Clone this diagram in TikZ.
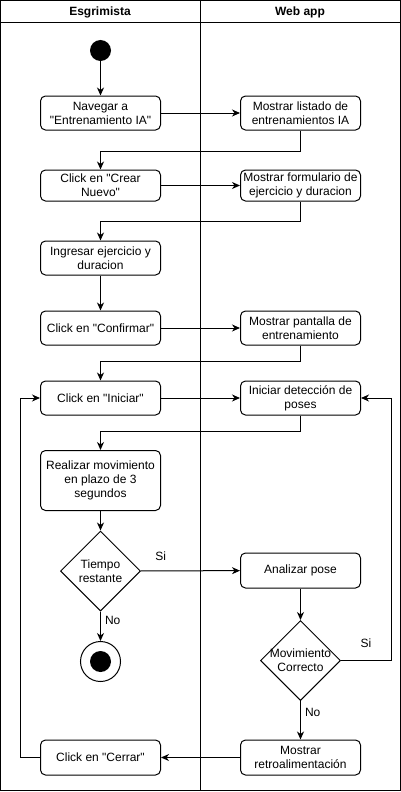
\documentclass[tikz,border=0pt]{standalone}
\usepackage{fontspec}
\setmainfont{Liberation Sans}
\usetikzlibrary{arrows.meta,shapes.geometric}
\newcommand{\qdbl}{\textquotedbl}
\begin{document}
\begin{tikzpicture}[x=1pt,y=-1pt,
  every node/.style={font=\fontsize{12}{14}\selectfont},
  act/.style={draw,rounded corners=5pt,minimum width=120,inner sep=0pt,align=center,line width=1pt},
  dec/.style={draw,diamond,minimum width=80,minimum height=80,inner sep=0pt,line width=1pt},
  arr/.style={-{Stealth[length=8pt,width=7pt,inset=2.5pt]},line width=1pt},
  lane/.style={line width=1pt},
  lbl/.style={inner sep=0pt}
]
\useasboundingbox (0,0) rectangle (401,792);
% swimlanes
\draw[lane] (0.5,0.5) rectangle (400.5,790.5);
\draw[lane] (0.5,23) -- (400.5,23);
\draw[lane] (200.5,0.5) -- (200.5,790.5);
\node[lbl,font=\fontsize{12}{14}\selectfont\bfseries] (h1) at (100,12) {Esgrimista};
\node[lbl,font=\fontsize{12}{14}\selectfont\bfseries] (h2) at (300,12) {Web app};

% nodes
\node[circle,fill=black,minimum size=21,inner sep=0pt] (start) at (100.5,50.5) {};
\node[act,minimum height=34] (nav) at (100.5,113) {Navegar a\\\qdbl Entrenamiento IA\qdbl};
\node[act,minimum height=34] (list) at (300.5,113) {Mostrar listado de\\entrenamientos IA};
\node[act,minimum height=31] (crear) at (100.5,185.5) {Click en \qdbl Crear\\Nuevo\qdbl};
\node[act,minimum height=31] (form) at (300.5,185.5) {Mostrar formulario de\\ejercicio y duracion};
\node[act,minimum height=34] (ingr) at (100.5,258) {Ingresar ejercicio y\\duracion};
\node[act,minimum height=34] (conf) at (100.5,328) {Click en \qdbl Confirmar\qdbl};
\node[act,minimum height=34] (pant) at (300.5,328) {Mostrar pantalla de\\entrenamiento};
\node[act,minimum height=34] (inic) at (100.5,398) {Click en \qdbl Iniciar\qdbl};
\node[act,minimum height=34] (det) at (300.5,398) {Iniciar detección de\\poses};
\node[act,minimum height=60] (real) at (100.5,480.5) {Realizar movimiento\\en plazo de 3\\segundos};
\node[dec,label={[align=center]center:Tiempo\\restante}] (tiempo) at (100.5,571) {};
\node[act,minimum height=35] (anal) at (300.5,570.5) {Analizar pose};
\node[dec,label={[align=center]center:Movimiento\\Correcto}] (mov) at (300.5,660.5) {};
\node[act,minimum height=35] (retro) at (300.5,757.5) {Mostrar\\retroalimentación};
\node[act,minimum height=35] (cerr) at (100.5,757.5) {Click en \qdbl Cerrar\qdbl};
\node[circle,draw,line width=1pt,minimum size=40,inner sep=0pt] (fin) at (100.5,661.5) {};
\node[circle,fill=black,minimum size=21,inner sep=0pt] (finin) at (100.5,661.5) {};

% connectors
\draw[arr] (start) -- (nav);
\draw[arr] (nav) -- (list);
\draw[arr] (list.south) -- ++(0,20.5) -| (crear.north);
\draw[arr] (crear) -- (form);
\draw[arr] (form.south) -- ++(0,20) -| (ingr.north);
\draw[arr] (ingr) -- (conf);
\draw[arr] (conf) -- (pant);
\draw[arr] (pant.south) -- ++(0,16) -| (inic.north);
\draw[arr] (inic) -- (det);
\draw[arr] (det.south) -- ++(0,15.5) -| (real.north);
\draw[arr] (real) -- (tiempo);
\draw[arr] (tiempo) -- node[lbl,pos=0.2,above=10pt] (si1) {Si} (anal);
\draw[arr] (anal) -- (mov);
\draw[arr] (mov.east) -- ++(50,0) coordinate (c1) |- (det.east);
\node[lbl] (si2) at (366,643) {Si};
\draw[arr] (mov) -- node[lbl,pos=0.3,right=4pt] (no2) {No} (retro);
\draw[arr] (retro) -- (cerr);
\draw[arr] (cerr.west) -- ++(-20,0) coordinate (c2) |- (inic.west);
\draw[arr] (tiempo) -- node[lbl,pos=0.3,right=4pt] (no1) {No} (fin);
\end{tikzpicture}
\end{document}
